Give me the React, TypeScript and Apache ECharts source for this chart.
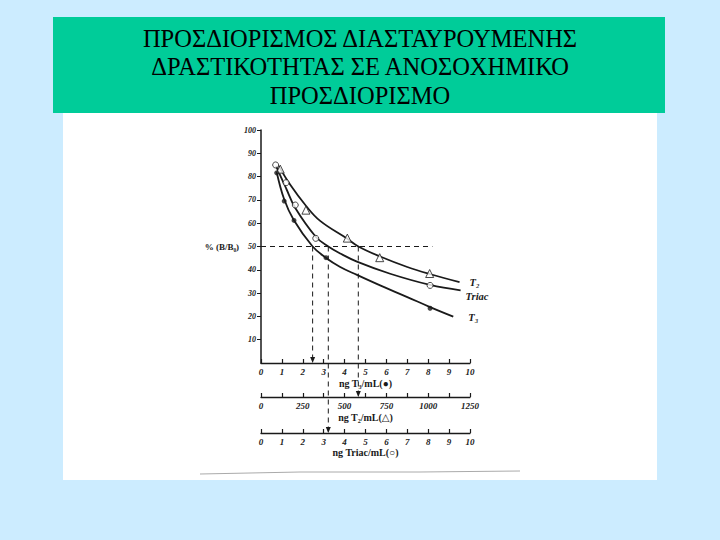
import React, { useEffect, useRef } from "react";
import * as echarts from "echarts";

const titleLines = [
  "ΠΡΟΣΔΙΟΡΙΣΜΟΣ ΔΙΑΣΤΑΥΡΟΥΜΕΝΗΣ",
  "ΔΡΑΣΤΙΚΟΤΗΤΑΣ ΣΕ ΑΝΟΣΟΧΗΜΙΚΟ",
  "ΠΡΟΣΔΙΟΡΙΣΜΟ",
];

const yAxisName = "% (B/B₀)";
const t3AxisName = "ng T₃/mL(●)";
const t2AxisName = "ng T₂/mL(△)";
const triacAxisName = "ng Triac/mL(○)";

// Points, x in the ng T3/mL scale (0-10), y in %
const t2Points = [[0.92, 83.2], [2.15, 65.6], [4.13, 53.6], [5.68, 45.2], [8.07, 38.4]];
const triacPoints = [[0.7, 85], [1.2, 77.4], [1.64, 67.8], [2.62, 53.5], [8.09, 33.3]];
const t3Points = [[0.75, 81.6], [1.11, 69.5], [1.58, 61.2], [3.11, 45.2], [8.09, 23.5]];

const t2Curve = [[0.85, 84.5], [1.4, 76.5], [2.15, 67.5], [2.83, 61], [4.1, 53.5], [4.66, 50], [5.67, 45.8], [7.0, 41.2], [8.07, 38.2], [9.5, 34.7]];
const triacCurve = [[0.72, 84.5], [1.2, 75], [1.64, 66.5], [2.62, 54.2], [3.22, 50], [3.79, 47], [4.59, 43.5], [6.18, 38.3], [8.09, 33.5], [9.55, 31.2]];
const t3Curve = [[0.75, 82], [1.1, 70.5], [1.56, 61.5], [2.47, 50], [3.1, 45.2], [3.79, 41.2], [4.59, 37.8], [5.7, 33.3], [7.0, 28.3], [8.09, 24.0], [9.2, 19.9]];

const curveLabels = ["T₂", "Triac", "T₃"];

const halfLevel = 50;
const halfLineEnd = 8.2;
// Read-off values on each of the three x scales (T3, T2, Triac)
const dropValues = [2.47, 582, 3.22];

const serif = "'Liberation Serif', 'DejaVu Serif', serif";
const ink = "#1a1a1a";

const GRID_LEFT = 261;
const GRID_TOP = 130;
const GRID_W = 209;
const GRID_H = 233;
const AXIS_OFFSETS = [0, 34, 70];

export default function App() {
  const ref = useRef<HTMLDivElement>(null);

  useEffect(() => {
    if (!ref.current) return;
    const chart = echarts.init(ref.current, undefined, { renderer: "svg" });

    const tickLabel = {
      fontFamily: serif,
      fontStyle: "italic",
      fontWeight: "bold",
      fontSize: 9,
      color: ink,
    } as any;

    const axisNameStyle = {
      fontFamily: serif,
      fontWeight: "bold",
      fontSize: 10,
      color: ink,
    } as any;

    const xAxisBase = (i: number, max: number, interval: number, name: string, gap: number, fmt?: any) => ({
      type: "value",
      gridIndex: 0,
      position: "bottom",
      offset: AXIS_OFFSETS[i],
      min: 0,
      max,
      interval,
      name,
      nameLocation: "middle",
      nameGap: gap,
      nameTextStyle: axisNameStyle,
      axisLine: { show: true, onZero: false, lineStyle: { color: ink, width: 1.3 } },
      axisTick: { show: true, inside: true, length: 4, lineStyle: { color: ink, width: 1.2 } },
      axisLabel: { ...tickLabel, margin: 4, formatter: fmt },
      splitLine: { show: false },
    });

    const baseGraphics: any[] = [
      { id: "green", type: "rect", z: -10, shape: { x: 53, y: 17, width: 612, height: 96 }, style: { fill: "#00CC99" } },
      { id: "paper", type: "rect", z: -10, shape: { x: 63, y: 113, width: 594, height: 367 }, style: { fill: "#ffffff" } },
      { id: "edge", type: "polyline", z: -9, shape: { points: [[200, 474], [300, 472], [420, 472], [520, 471]] }, style: { stroke: "#aaa", lineWidth: 1, fill: "none" } },
    ];

    const lineSeries = (data: number[][], label: string, offset: number[]) => ({
      type: "line",
      data,
      smooth: 0.4,
      symbol: "none",
      lineStyle: { color: ink, width: 1.8 },
      z: 3,
      endLabel: {
        show: true,
        formatter: label,
        offset,
        fontFamily: serif,
        fontStyle: "italic",
        fontWeight: "bold",
        fontSize: 10.5,
        color: ink,
      },
    });

    const option: any = {
      animation: false,
      backgroundColor: "#CCECFF",
      title: {
        text: titleLines.join("\n"),
        left: "center",
        top: 24,
        padding: 0,
        textStyle: {
          fontFamily: serif,
          fontWeight: "normal",
          fontSize: 24.5,
          lineHeight: 28.5,
          color: "#000",
        },
      },
      grid: { left: GRID_LEFT, top: GRID_TOP, width: GRID_W, height: GRID_H },
      xAxis: [
        xAxisBase(0, 10, 1, t3AxisName, 15),
        xAxisBase(1, 1250, 125, t2AxisName, 15, (v: number) => (v % 250 === 0 ? String(v) : "")),
        xAxisBase(2, 10, 1, triacAxisName, 14),
      ],
      yAxis: {
        type: "value",
        min: 0,
        max: 100,
        interval: 10,
        name: yAxisName,
        nameLocation: "middle",
        nameRotate: 0,
        nameGap: 14,
        nameTextStyle: { ...axisNameStyle, fontSize: 9, align: "right" },
        axisLine: { show: true, lineStyle: { color: ink, width: 1.5 } },
        axisTick: { show: true, inside: false, length: 4, lineStyle: { color: ink } },
        axisLabel: { ...tickLabel, fontSize: 8, margin: 5, showMinLabel: false },
        splitLine: { show: false },
      },
      series: [
        lineSeries(t2Curve, curveLabels[0], [2, 0]),
        lineSeries(triacCurve, curveLabels[1], [-3, 6]),
        lineSeries(t3Curve, curveLabels[2], [7, 1]),
        {
          type: "line",
          data: [[0, halfLevel], [halfLineEnd, halfLevel]],
          symbol: "none",
          lineStyle: { color: ink, width: 1, type: [5, 4] },
          z: 2,
        },
        {
          type: "scatter",
          data: t2Points,
          symbol: "triangle",
          symbolSize: 8,
          itemStyle: { color: "#fff", borderColor: ink, borderWidth: 1 },
          z: 5,
        },
        {
          type: "scatter",
          data: triacPoints,
          symbol: "circle",
          symbolSize: 6,
          itemStyle: { color: "#fff", borderColor: ink, borderWidth: 1 },
          z: 5,
        },
        {
          type: "scatter",
          data: t3Points,
          symbol: "circle",
          symbolSize: 5,
          itemStyle: { color: ink },
          z: 5,
        },
      ],
      graphic: { elements: baseGraphics },
    };

    chart.setOption(option);

    const yTop = chart.convertToPixel({ yAxisIndex: 0 } as any, halfLevel) as number;
    const gridBottom = GRID_TOP + GRID_H;
    const extra: any[] = [];
    dropValues.forEach((v, i) => {
      const x = chart.convertToPixel({ xAxisIndex: i } as any, v) as number;
      const yb = gridBottom + AXIS_OFFSETS[i];
      extra.push({
        id: "drop" + i,
        type: "line",
        z: 4,
        shape: { x1: x, y1: yTop, x2: x, y2: yb - 1 },
        style: { stroke: ink, lineWidth: 1, lineDash: [5, 4] },
      });
      extra.push({
        id: "arrow" + i,
        type: "polygon",
        z: 4,
        shape: { points: [[x - 2.5, yb - 6], [x + 2.5, yb - 6], [x, yb]] },
        style: { fill: ink },
      });
    });
    chart.setOption({ graphic: { elements: [...baseGraphics, ...extra] } });

    return () => chart.dispose();
  }, []);

  return (
    <div
      ref={ref}
      style={{ position: "fixed", left: 0, top: 0, width: 720, height: 540 }}
    />
  );
}
